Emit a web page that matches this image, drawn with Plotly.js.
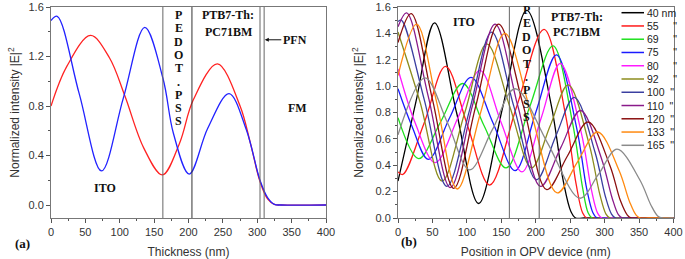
<!DOCTYPE html>
<html>
<head>
<meta charset="utf-8">
<script src="https://cdn.plot.ly/plotly-3.0.1.min.js"></script>
<style>html,body{margin:0;padding:0;background:#fff;}#chart{width:685px;height:259px;}</style>
</head>
<body>
<div id="chart"></div>
<script>
// ---------- Panel (a): field intensity vs thickness ----------
const aRedX  = [0, 23, 57.5, 85, 107.5, 135, 162, 187, 207, 242, 275, 290, 304, 315, 325, 335, 400];
const aRedY  = [0.80, 1.12, 1.37, 1.19, 0.88, 0.46, 0.243, 0.50, 0.85, 1.14, 0.80, 0.50, 0.19, 0.05, 0.005, 0, 0];
const aBlueX = [0, 9, 41, 73.5, 105, 136.5, 163, 178, 201, 228, 259, 284, 304, 315, 325, 335, 400];
const aBlueY = [1.49, 1.525, 0.90, 0.275, 0.86, 1.435, 1.02, 0.58, 0.25, 0.62, 0.90, 0.61, 0.20, 0.06, 0.005, 0, 0];
const aBoundaries = [162.7, 205, 304, 310];

// ---------- Panel (b): intensity vs position for several thicknesses ----------
const bNames = ['40', '55', '69', '75', '80', '92', '100', '110', '120', '133', '165'];
const bColors = ['#000000', '#ff1a1a', '#1ee01e', '#1a1aff', '#ff1aff', '#8c8c1e', '#3a3fa0', '#8a1a8a', '#8b1010', '#ff8a10', '#8a8a8a'];
const b40X  = [0, 26, 53, 85, 117, 152, 187, 222, 240, 251, 258, 270, 400];
const b40Y  = [0.28, 0.88, 1.48, 0.80, 0.11, 0.84, 1.575, 0.87, 0.28, 0.05, 0, 0, 0];
const b55X  = [0, 7, 38, 69, 101, 133, 172, 212, 243, 258.5, 268, 274, 285, 400];
const b55Y  = [0.35, 0.33, 0.72, 1.15, 0.70, 0.25, 0.84, 1.43, 0.79, 0.26, 0.04, 0, 0, 0];
const b69X  = [0, 30, 62, 94, 125, 157, 191, 225, 253.5, 268, 276, 282, 295, 400];
const b69Y  = [0.76, 0.45, 0.73, 1.02, 0.70, 0.38, 0.84, 1.305, 0.72, 0.23, 0.04, 0, 0, 0];
const b75X  = [0, 20, 44, 75, 106, 138, 170, 200, 230, 259.5, 274, 283, 289, 300, 400];
const b75Y  = [0.98, 0.70, 0.445, 0.76, 1.067, 0.72, 0.36, 0.80, 1.237, 0.68, 0.22, 0.04, 0, 0, 0];
const b80X  = [0, 25, 54, 87, 119, 150, 180, 208, 235.5, 266, 281, 290, 296, 308, 400];
const b80Y  = [1.13, 0.72, 0.42, 0.76, 1.12, 0.72, 0.35, 0.76, 1.173, 0.65, 0.21, 0.035, 0, 0, 0];
const b92X  = [0, 32, 64, 97, 129, 162, 194, 221, 247, 277.5, 293, 302, 308, 320, 400];
const b92Y  = [1.41, 0.88, 0.28, 0.80, 1.32, 0.85, 0.38, 0.70, 1.01, 0.56, 0.18, 0.03, 0, 0, 0];
const b100X = [0, 5, 38, 71, 104, 136, 168, 201, 229, 256, 286, 301, 310, 316, 328, 400];
const b100Y = [1.49, 1.50, 0.90, 0.24, 0.82, 1.41, 0.85, 0.29, 0.62, 0.915, 0.50, 0.165, 0.03, 0, 0, 0];
const b110X = [0, 12.5, 44, 76, 108, 141, 174, 207, 236, 265, 295.5, 311, 320, 326, 338, 400];
const b110Y = [1.45, 1.555, 0.92, 0.23, 0.85, 1.47, 0.85, 0.24, 0.53, 0.815, 0.45, 0.15, 0.025, 0, 0, 0];
const b120X = [0, 19, 50, 81, 113, 146, 182, 216, 246, 276, 307.5, 323, 333, 339, 350, 400];
const b120Y = [1.33, 1.55, 0.90, 0.225, 0.85, 1.47, 0.85, 0.215, 0.47, 0.728, 0.40, 0.13, 0.022, 0, 0, 0];
const b133X = [0, 27, 56, 86, 120, 155, 193, 231, 260, 290, 321, 336.5, 346, 352, 364, 400];
const b133Y = [1.08, 1.47, 0.88, 0.22, 0.80, 1.40, 0.80, 0.19, 0.42, 0.652, 0.36, 0.12, 0.02, 0, 0, 0];
const b165X = [0, 39, 72, 104, 137, 170, 217, 264, 291, 318, 351, 367.5, 377, 384, 395, 400];
const b165Y = [0.63, 1.063, 0.72, 0.365, 0.67, 0.98, 0.57, 0.15, 0.33, 0.522, 0.29, 0.095, 0.016, 0, 0, 0];
const bBoundaries = [161.7, 205];

const bXs = [b40X, b55X, b69X, b75X, b80X, b92X, b100X, b110X, b120X, b133X, b165X];
const bYs = [b40Y, b55Y, b69Y, b75Y, b80Y, b92Y, b100Y, b110Y, b120Y, b133Y, b165Y];

const pedotLetters = 'PEDOT.PSS'.split('');

// ---------- build ----------
const serif = 'Liberation Serif, Times New Roman, serif';
const sans = 'Liberation Sans, Arial, sans-serif';
const traces = [];
traces.push({x: aRedX, y: aRedY, xaxis: 'x', yaxis: 'y', mode: 'lines', line: {color: '#ff2222', width: 1.3, shape: 'spline'}, showlegend: false});
traces.push({x: aBlueX, y: aBlueY, xaxis: 'x', yaxis: 'y', mode: 'lines', line: {color: '#2222ff', width: 1.3, shape: 'spline'}, showlegend: false});
bXs.forEach((xs, i) => {
  traces.push({x: xs, y: bYs[i], xaxis: 'x2', yaxis: 'y2', mode: 'lines', name: bNames[i],
    line: {color: bColors[i], width: 1.3, shape: 'spline'}, showlegend: false});
});

const shapes = [];
aBoundaries.forEach((b, i) => shapes.push({type: 'line', xref: 'x', yref: 'y domain', x0: b, x1: b, y0: 0, y1: 1,
  line: {color: i === 1 ? '#333' : '#666', width: 1}}));
bBoundaries.forEach((b, i) => shapes.push({type: 'line', xref: 'x2', yref: 'y2 domain', x0: b, x1: b, y0: 0, y1: 1,
  line: {color: i === 1 ? '#555' : '#666', width: 1}}));

const annotations = [];
function lab(text, x, y, xref, yref, size) {
  annotations.push({text: text, x: x, y: y, xref: xref, yref: yref, showarrow: false,
    xanchor: 'center', yanchor: 'middle',
    font: {family: serif, size: size || 12, color: '#111'}});
}
// panel a labels
lab('<b>ITO</b>', 78.5, 0.137, 'x', 'y', 12);
lab('<b>PTB7-Th:</b>', 257.7, 1.535, 'x', 'y', 12);
lab('<b>PC71BM</b>', 257.7, 1.395, 'x', 'y', 12);
lab('<b>FM</b>', 359, 0.78, 'x', 'y', 12);
annotations.push({text: '<b>PFN</b>', x: 311, y: 1.335, xref: 'x', yref: 'y', showarrow: true,
  ax: 30, ay: 0, arrowhead: 2, arrowsize: 0.8, arrowwidth: 1, arrowcolor: '#111', standoff: 0,
  font: {family: serif, size: 12, color: '#111'}});
pedotLetters.forEach((ch, i) => lab('<b>' + ch + '</b>', 186, 1.535 - i * 0.1075, 'x', 'y', 12));
// panel b labels
lab('<b>ITO</b>', 96, 1.49, 'x2', 'y2', 12);
lab('<b>PTB7-Th:</b>', 259.6, 1.527, 'x2', 'y2', 12);
lab('<b>PC71BM</b>', 259.6, 1.413, 'x2', 'y2', 12);
pedotLetters.forEach((ch, i) => lab('<b>' + ch + '</b>', 187, 1.577 - i * 0.1015, 'x2', 'y2', 12));
// panel tags
lab('<b>(a)</b>', 22 / 685, 1 - 243 / 259, 'paper', 'paper', 13);
lab('<b>(b)</b>', 409 / 685, 1 - 241 / 259, 'paper', 'paper', 13);

// custom legend for panel b (pixel rows converted to paper fractions)
const NB = '\u00a0';
bNames.forEach((n, i) => {
  const py = 12.7 + i * 13.26;
  const yy = 1 - py / 259;
  shapes.push({type: 'line', xref: 'paper', yref: 'paper', x0: 621.5 / 685, x1: 644 / 685, y0: yy, y1: yy,
    line: {color: bColors[i], width: 1.5}});
  let txt;
  if (i === 0) txt = n + ' nm';
  else txt = n + NB.repeat(n.length === 2 ? 5 : 2) + '"';
  annotations.push({text: txt, x: 645.5 / 685, y: yy, xref: 'paper', yref: 'paper',
    xanchor: 'left', yanchor: 'middle', showarrow: false, borderpad: 0,
    font: {family: sans, size: 10.5, color: '#222'}});
});

const axisCommon = {
  showline: true, mirror: true, linecolor: '#777', linewidth: 1,
  ticks: 'outside', ticklen: 4, tickcolor: '#555', tickwidth: 1,
  showgrid: false, zeroline: false,
  tickfont: {family: sans, size: 11, color: '#333'},
};
const xCommon = Object.assign({}, axisCommon, {range: [0, 400], dtick: 50, tick0: 0,
  minor: {dtick: 25, ticks: 'outside', ticklen: 2, tickcolor: '#555', showgrid: false}});

const layout = {
  width: 685, height: 259,
  margin: {l: 0, r: 0, t: 0, b: 0},
  paper_bgcolor: '#fff', plot_bgcolor: '#fff',
  showlegend: false,
  xaxis: Object.assign({}, xCommon, {domain: [51 / 685, 326 / 685], anchor: 'y',
    title: {text: 'Thickness (nm)', font: {family: sans, size: 12, color: '#333'}, standoff: 13}}),
  yaxis: Object.assign({}, axisCommon, {domain: [41 / 259, 252 / 259], anchor: 'x', range: [-0.105, 1.6],
    tickvals: [0, 0.4, 0.8, 1.2, 1.6], tickformat: '.1f',
    minor: {dtick: 0.2, tick0: 0, ticks: 'outside', ticklen: 2, tickcolor: '#555', showgrid: false},
    title: {text: 'Normalized intensity |E|<sup>2</sup>', font: {family: sans, size: 12, color: '#333'}, standoff: 6}}),
  xaxis2: Object.assign({}, xCommon, {domain: [398 / 685, 673.5 / 685], anchor: 'y2',
    title: {text: 'Position in OPV device (nm)', font: {family: sans, size: 12, color: '#333'}, standoff: 13}}),
  yaxis2: Object.assign({}, axisCommon, {domain: [41 / 259, 252 / 259], anchor: 'x2', range: [0, 1.6],
    dtick: 0.2, tick0: 0, tickformat: '.1f',
    minor: {dtick: 0.1, ticks: 'outside', ticklen: 2, tickcolor: '#555', showgrid: false},
    title: {text: 'Normalized intensity |E|<sup>2</sup>', font: {family: sans, size: 12, color: '#333'}, standoff: 9}}),
  shapes: shapes,
  annotations: annotations,
};

Plotly.newPlot('chart', traces, layout, {staticPlot: true, displayModeBar: false});
</script>
</body>
</html>
